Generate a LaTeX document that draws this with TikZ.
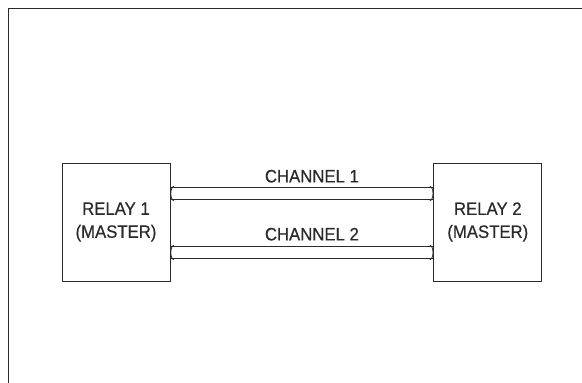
\documentclass[tikz,border=0pt]{standalone}
\usepackage{fontspec}
\setmainfont{Liberation Sans}[FakeStretch=0.93, FakeBold=0.5]
\usetikzlibrary{arrows.meta, positioning}
\definecolor{cLine}{HTML}{2A2A2A}

\begin{document}
\begin{tikzpicture}[
  x=1pt, y=-1pt,
  node distance=263pt,
  relay/.style={rectangle, draw=cLine, line width=0.8pt, minimum height=118pt, minimum width=108pt, align=center, font=\fontsize{18}{23}\selectfont, text=cLine, inner sep=0pt},
  chan/.style={draw=cLine, line width=0.8pt, double=white, double distance=11.5pt,
    {Arc Barb[length=3.5pt, width=15pt, line width=0.8pt]}-{Arc Barb[length=3.5pt, width=15pt, line width=0.8pt]}},
  lbl/.style={font=\fontsize{18}{20}\selectfont, text=cLine, inner sep=0pt, xshift=10pt}
]
\useasboundingbox (0,0) rectangle (582,383);
% outer frame (left and top edges)
\draw[cLine, line width=0.9pt] (8,383) -- (8,8) -- (582,8);

\node[relay] (R1) at (116,222) {RELAY 1\\(MASTER)};
\node[relay, right=of R1] (R2) {RELAY 2\\(MASTER)};

\draw[chan] ([yshift=28.5pt]R1.east) -- node[lbl, above=10.5pt]{CHANNEL 1} ([yshift=28.5pt]R2.west);
\draw[chan] ([yshift=-30.5pt]R1.east) -- node[lbl, above=11.5pt]{CHANNEL 2} ([yshift=-30.5pt]R2.west);
\end{tikzpicture}
\end{document}
